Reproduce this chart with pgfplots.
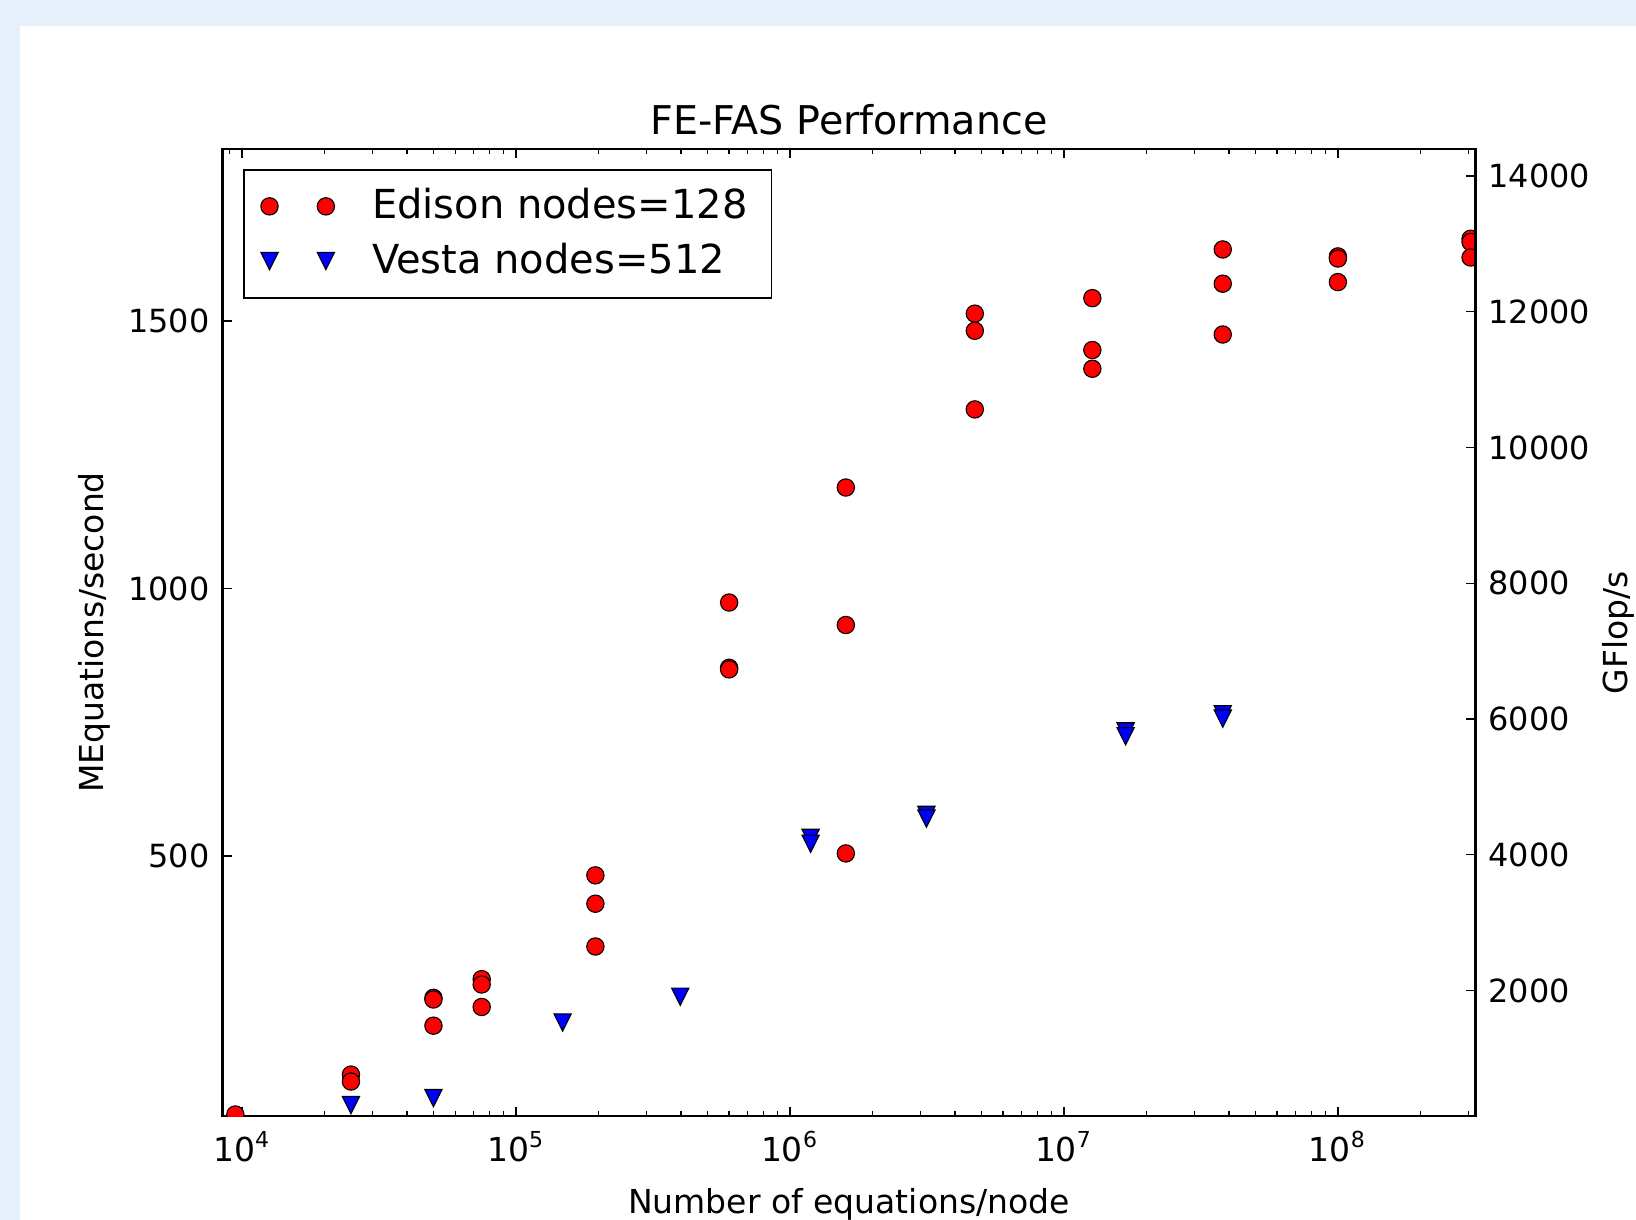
\documentclass[border=0pt]{standalone}
\usepackage{fontspec}
\setmainfont{DejaVu Sans}
\usepackage{pgfplots}
\pgfplotsset{compat=1.18}

\definecolor{pagebg}{HTML}{E6F0FA}

% matplotlib 'v' marker: triangle pointing down, as wide as high
\pgfdeclareplotmark{tridown}{%
  \pgfpathmoveto{\pgfqpoint{0pt}{-\pgfplotmarksize}}%
  \pgfpathlineto{\pgfqpoint{\pgfplotmarksize}{\pgfplotmarksize}}%
  \pgfpathlineto{\pgfqpoint{-\pgfplotmarksize}{\pgfplotmarksize}}%
  \pgfpathclose
  \pgfusepathqfillstroke}

\begin{document}
\begin{tikzpicture}
\fill[pagebg] (-21.32mm,-9.93mm) rectangle (135.48mm,106.97mm);
\fill[white] (-19.42mm,-9.93mm) rectangle (135.48mm,104.47mm);

\begin{axis}[
  at={(0,0)}, anchor=south west,
  scale only axis, width=120.1mm, height=92.7mm,
  xmode=log, xmin=8490, xmax=3.18e8,
  ymin=14, ymax=1822,
  ytick={500,1000,1500},
  ytick pos=left,
  xtick pos=both,
  tick align=inside,
  major tick length=0.9mm, minor tick length=0.45mm,
  every tick/.style={black, line width=0.35pt},
  axis line style={line width=0.6pt},
  tick label style={font=\fontsize{8.7}{10}\selectfont},
  label style={font=\fontsize{9}{11}\selectfont},
  /pgf/number format/assume math mode=true,
  /pgf/number format/1000 sep={},
  scaled y ticks=false,
  xticklabel={10\textsuperscript{\pgfmathparse{int(round(\tick/ln(10)))}\pgfmathresult}},
  xticklabel style={anchor=base, yshift=-4.37mm, font=\fontsize{9}{11}\selectfont},
  xlabel={Number of equations/node},
  xlabel style={at={(axis description cs:0.5,-0.1006)}, anchor=base},
  ylabel={MEquations/second},
  ylabel style={at={(axis description cs:-0.0951,0.5)}, anchor=base},
  title={FE-FAS Performance},
  title style={at={(axis description cs:0.5,0.9922)}, anchor=base, font=\fontsize{10.8}{13}\selectfont},
  clip marker paths=true,
  legend image code/.code={\draw[#1] plot coordinates {(0mm,0mm) (5.4mm,0mm)};},
  legend style={at={(0.0166,0.9795)}, anchor=north west, draw=black, line width=0.5pt,
    fill=white, font=\fontsize{10.9}{13}\selectfont, inner xsep=1.6mm, inner ysep=1.1mm,
    row sep=0.4mm, column sep=2.9mm},
  legend cell align=left,
]
\addplot[only marks, mark=*, mark size=0.83mm,
  mark options={fill=red, draw=black, line width=0.3pt}] coordinates {
  (9460,17)
  (2.5e4,91.6) (2.5e4,78.6)
  (5e4,235) (5e4,232) (5e4,183)
  (7.5e4,270) (7.5e4,260) (7.5e4,218)
  (1.95e5,464) (1.95e5,411) (1.95e5,331)
  (6e5,974) (6e5,852) (6e5,849)
  (1.6e6,1189) (1.6e6,932) (1.6e6,505)
  (4.73e6,1514) (4.73e6,1482) (4.73e6,1335)
  (1.27e7,1543) (1.27e7,1446) (1.27e7,1411)
  (3.8e7,1634) (3.8e7,1570) (3.8e7,1475)
  (1e8,1621) (1e8,1617) (1e8,1573)
  (3.05e8,1654) (3.05e8,1648) (3.05e8,1619)
};
\addlegendentry{Edison nodes=128}
\addplot[only marks, mark=tridown, mark size=0.83mm,
  mark options={fill=blue, draw=black, line width=0.3pt}] coordinates {
  (2.5e4,34.5)
  (5e4,47.6)
  (1.48e5,189)
  (3.98e5,237)
  (1.19e6,534) (1.19e6,523)
  (3.15e6,577) (3.15e6,570)
  (1.68e7,733) (1.68e7,724)
  (3.8e7,765) (3.8e7,757)
};
\addlegendentry{Vesta nodes=512}
\end{axis}

\begin{axis}[
  at={(0,0)}, anchor=south west,
  scale only axis, width=120.1mm, height=92.7mm,
  xmode=log, xmin=8490, xmax=3.18e8,
  ymin=150, ymax=14400,
  ytick={2000,4000,6000,8000,10000,12000,14000},
  axis x line=none,
  axis y line*=right,
  ytick pos=right,
  tick align=inside,
  major tick length=0.9mm,
  every tick/.style={black, line width=0.35pt},
  axis line style={line width=0.6pt},
  tick label style={font=\fontsize{8.7}{10}\selectfont},
  label style={font=\fontsize{9}{11}\selectfont},
  /pgf/number format/assume math mode=true,
  /pgf/number format/1000 sep={},
  scaled y ticks=false,
  ylabel={GFlop/s},
  ylabel style={at={(axis description cs:1.121,0.5)}, anchor=base},
]
\addplot[draw=none] coordinates {(1e5,1000)};
\end{axis}

\pgfresetboundingbox
\path[use as bounding box] (-21.32mm,-9.93mm) rectangle (135.48mm,106.97mm);
\end{tikzpicture}
\end{document}
